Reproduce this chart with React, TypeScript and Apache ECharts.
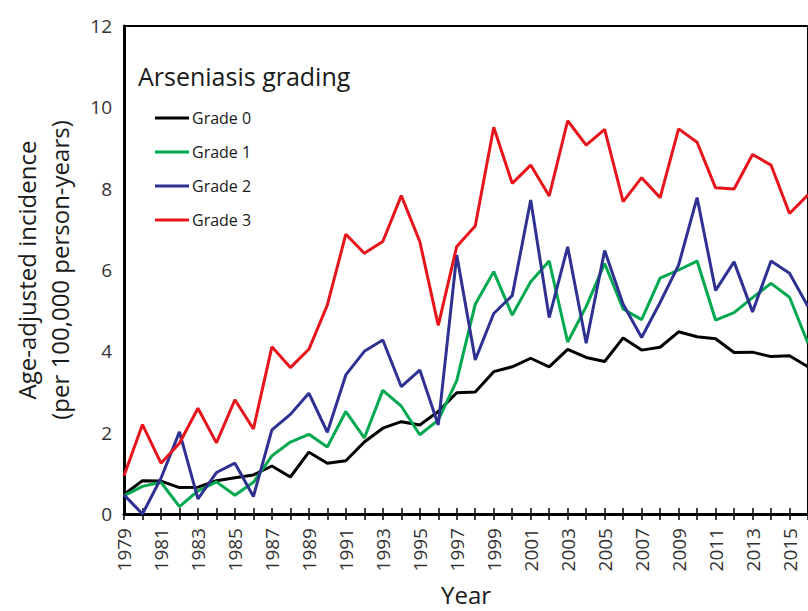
import React, { useEffect, useRef } from "react";
import * as echarts from "echarts";

const years: string[] = [
  "1979","1980","1981","1982","1983","1984","1985","1986","1987","1988",
  "1989","1990","1991","1992","1993","1994","1995","1996","1997","1998",
  "1999","2000","2001","2002","2003","2004","2005","2006","2007","2008",
  "2009","2010","2011","2012","2013","2014","2015","2016",
];

const grade0: number[] = [
  0.48, 0.82, 0.81, 0.65, 0.66, 0.82, 0.89, 0.96, 1.18, 0.91,
  1.52, 1.25, 1.31, 1.77, 2.11, 2.27, 2.19, 2.52, 2.98, 3.0,
  3.5, 3.62, 3.83, 3.62, 4.05, 3.85, 3.75, 4.33, 4.03, 4.1,
  4.48, 4.36, 4.31, 3.97, 3.98, 3.87, 3.89, 3.62,
];

const grade1: number[] = [
  0.45, 0.68, 0.78, 0.18, 0.57, 0.79, 0.46, 0.78, 1.43, 1.77,
  1.96, 1.65, 2.52, 1.87, 3.04, 2.65, 1.95, 2.31, 3.28, 5.16,
  5.96, 4.89, 5.71, 6.22, 4.23, 5.1, 6.16, 5.04, 4.78, 5.8,
  6.0, 6.22, 4.77, 4.95, 5.32, 5.67, 5.33, 4.2,
];

const grade2: number[] = [
  0.47, 0.0, 0.88, 2.02, 0.37, 1.02, 1.25, 0.43, 2.07, 2.45,
  2.97, 2.01, 3.42, 4.0, 4.28, 3.13, 3.54, 2.19, 6.37, 3.79,
  4.93, 5.37, 7.72, 4.83, 6.57, 4.2, 6.48, 5.16, 4.34, 5.2,
  6.12, 7.78, 5.5, 6.2, 4.97, 6.22, 5.92, 5.1,
];

const grade3: number[] = [
  0.94, 2.2, 1.25, 1.74, 2.6, 1.75, 2.81, 2.09, 4.11, 3.6,
  4.05, 5.14, 6.88, 6.41, 6.7, 7.83, 6.7, 4.64, 6.58, 7.08,
  9.51, 8.13, 8.58, 7.82, 9.67, 9.07, 9.46, 7.68, 8.27, 7.78,
  9.47, 9.14, 8.02, 7.99, 8.84, 8.58, 7.39, 7.85,
];

const seriesNames: string[] = ["Grade 0", "Grade 1", "Grade 2", "Grade 3"];
const seriesColors: string[] = ["#000000", "#00a84f", "#2e3192", "#e8141b"];
const seriesData: number[][] = [grade0, grade1, grade2, grade3];

const FONT = "'Open Sans', 'DejaVu Sans', sans-serif";

export default function App() {
  const ref = useRef<HTMLDivElement>(null);

  useEffect(() => {
    if (!ref.current) return;
    const chart = echarts.init(ref.current, undefined, { renderer: "svg" });
    chart.setOption({
      animation: false,
      backgroundColor: "#ffffff",
      textStyle: { fontFamily: FONT },
      title: {
        text: "Arseniasis grading",
        left: 133,
        top: 58,
        textStyle: { fontSize: 25, fontWeight: "normal", color: "#1a1a1a", fontFamily: FONT },
      },
      legend: {
        orient: "vertical",
        left: 150,
        top: 103,
        itemWidth: 34,
        itemHeight: 3,
        itemGap: 14,
        icon: "rect",
        data: seriesNames,
        textStyle: { fontSize: 16, color: "#1a1a1a", lineHeight: 20, padding: [0, 0, 0, -2], fontFamily: FONT },
      },
      grid: {
        left: 124,
        top: 26,
        right: -3,
        bottom: 97,
        show: true,
        borderColor: "#000",
        borderWidth: 2,
        containLabel: false,
      },
      xAxis: [
        {
          type: "category",
          data: years,
          boundaryGap: false,
          position: "bottom",
          name: "Year",
          nameLocation: "middle",
          nameGap: 68,
          nameTextStyle: { fontSize: 24, color: "#1a1a1a", fontFamily: FONT },
          axisLine: { show: true, lineStyle: { color: "#000", width: 3 } },
          axisTick: { show: true, interval: 0, length: 6, lineStyle: { color: "#000", width: 1.5 } },
          axisLabel: { interval: 1, rotate: 90, fontSize: 19, color: "#333", margin: 14, fontFamily: FONT },
          splitLine: { show: false },
        },
        {
          type: "category",
          data: years,
          boundaryGap: false,
          position: "bottom",
          axisLine: { show: false },
          axisTick: { show: true, inside: true, interval: 0, length: 6, lineStyle: { color: "#000", width: 1.5 } },
          axisLabel: { show: false },
          splitLine: { show: false },
        },
      ],
      yAxis: {
        type: "value",
        min: 0,
        max: 12,
        interval: 2,
        name: "Age-adjusted incidence\n(per 100,000 person-years)",
        nameLocation: "middle",
        nameGap: 48,
        nameRotate: 90,
        nameTextStyle: { fontSize: 24, color: "#1a1a1a", lineHeight: 33, fontFamily: FONT },
        axisLine: { show: true, lineStyle: { color: "#000", width: 3 } },
        axisTick: { show: false },
        axisLabel: { fontSize: 19, color: "#333", margin: 12, fontFamily: FONT },
        splitLine: { show: false },
      },
      series: seriesNames.map((name, i) => ({
        name,
        type: "line",
        data: seriesData[i],
        xAxisIndex: 0,
        symbol: "none",
        color: seriesColors[i],
        lineStyle: { color: seriesColors[i], width: 3 },
        itemStyle: { color: seriesColors[i] },
        z: 2 + i,
      })),
    });
    return () => chart.dispose();
  }, []);

  return (
    <div
      ref={ref}
      style={{ position: "absolute", left: 0, top: 0, width: 808, height: 611, overflow: "hidden" }}
    />
  );
}
